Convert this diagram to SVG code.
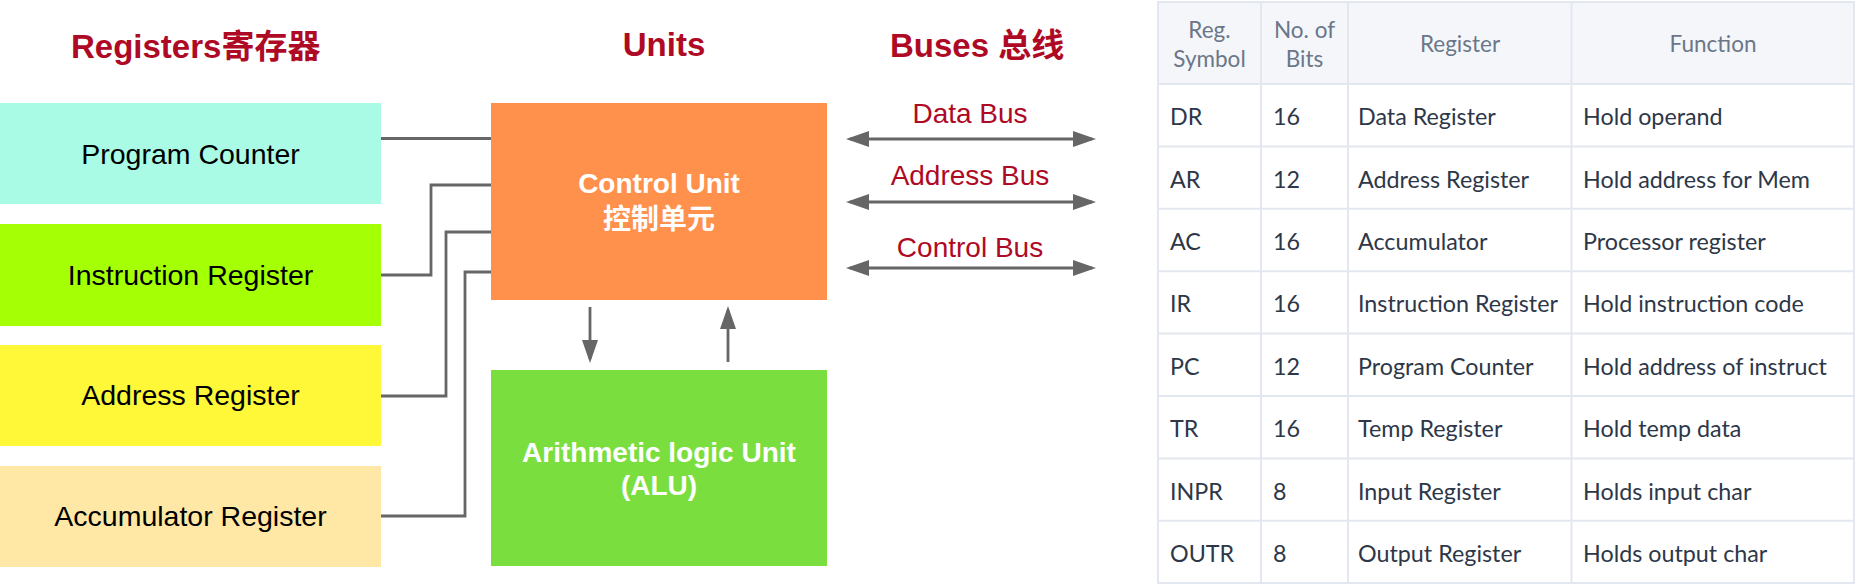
<svg xmlns="http://www.w3.org/2000/svg" width="1856" height="585" viewBox="0 0 1856 585">
<style>
.title{font-family:"Liberation Sans","Noto Sans CJK SC",sans-serif;font-weight:bold;font-size:33px;fill:#AF0A25}
.reg{font-family:"Liberation Sans",sans-serif;font-size:28.5px;fill:#000;text-anchor:middle}
.unit{font-family:"Liberation Sans","Noto Sans CJK SC",sans-serif;font-weight:bold;font-size:28px;fill:#fff;text-anchor:middle}
.bus{font-family:"Liberation Sans",sans-serif;font-size:28px;fill:#AF0A25;text-anchor:middle}
.wire{fill:none;stroke:#666;stroke-width:2.8}
.th{font-family:Lato,"Open Sans",sans-serif;font-size:22.5px;fill:#6B7689;text-anchor:middle}
.td{font-family:Lato,"Open Sans",sans-serif;font-size:23.3px;fill:#2D3748}
.grid{stroke:#E3E8F0;stroke-width:2;fill:none}
</style>
<defs>
<marker id="ah" viewBox="0 0 23 16" refX="19" refY="8" markerWidth="23" markerHeight="16" markerUnits="userSpaceOnUse" orient="auto-start-reverse">
<path d="M0,0 L23,8 L0,16 z" fill="#666"/>
</marker>
</defs>
<rect width="1856" height="585" fill="#fff"/>
<g id="titles">
<text class="title" x="71" y="58">Registers寄存器</text>
<text class="title" x="664" y="56" text-anchor="middle">Units</text>
<text class="title" x="890" y="57">Buses 总线</text>
</g>
<g id="connectors">
<path class="wire" d="M381,138.5 H491"/>
<path class="wire" d="M381,275 H431 V185 H491"/>
<path class="wire" d="M381,396 H446 V232 H491"/>
<path class="wire" d="M381,516 H465 V272 H491"/>
<line class="wire" x1="850" y1="139" x2="1092" y2="139" marker-start="url(#ah)" marker-end="url(#ah)"/>
<line class="wire" x1="850" y1="202" x2="1092" y2="202" marker-start="url(#ah)" marker-end="url(#ah)"/>
<line class="wire" x1="850" y1="268" x2="1092" y2="268" marker-start="url(#ah)" marker-end="url(#ah)"/>
<line class="wire" x1="590" y1="307" x2="590" y2="359" marker-end="url(#ah)"/>
<line class="wire" x1="728" y1="362" x2="728" y2="310" marker-end="url(#ah)"/>
</g>
<g id="pc"><rect x="0" y="103" width="381" height="101" fill="#A9FBE5"/><text class="reg" x="190.5" y="164">Program Counter</text></g>
<g id="ir"><rect x="0" y="224" width="381" height="102" fill="#A5FF05"/><text class="reg" x="190.5" y="285">Instruction Register</text></g>
<g id="ar"><rect x="0" y="345" width="381" height="101" fill="#FFF838"/><text class="reg" x="190.5" y="405">Address Register</text></g>
<g id="acc"><rect x="0" y="466" width="381" height="101" fill="#FFE8A5"/><text class="reg" x="190.5" y="526">Accumulator Register</text></g>
<g id="cu"><rect x="491" y="103" width="336" height="197" fill="#FF914D"/>
<text class="unit" x="659" y="193">Control Unit</text>
<text class="unit" x="659" y="229">控制单元</text></g>
<g id="alu"><rect x="491" y="370" width="336" height="196" fill="#7BDE3F"/>
<text class="unit" x="659" y="462">Arithmetic logic Unit</text>
<text class="unit" x="659" y="495">(ALU)</text></g>
<g id="buslabels">
<text class="bus" x="970" y="123">Data Bus</text>
<text class="bus" x="970" y="185">Address Bus</text>
<text class="bus" x="970" y="257">Control Bus</text>
</g>
<g id="table">
<rect x="1158" y="2" width="696" height="82" fill="#F4F6FA"/>
<rect class="grid" x="1158" y="2" width="696" height="581"/>
<path class="grid" d="M1261,2 V583 M1348,2 V583 M1571.5,2 V583 M1158,84 H1854 M1158,146.4 H1854 M1158,208.8 H1854 M1158,271.2 H1854 M1158,333.6 H1854 M1158,396 H1854 M1158,458.4 H1854 M1158,520.8 H1854"/>
<text class="th" x="1209.5" y="37.7">Reg.</text>
<text class="th" x="1209.5" y="66.7">Symbol</text>
<text class="th" x="1304.5" y="37.7">No. of</text>
<text class="th" x="1304.5" y="66.7">Bits</text>
<text class="th" x="1460" y="52">Register</text>
<text class="th" x="1713" y="52">Function</text>
<g class="td">
<text x="1170" y="125.2">DR</text><text x="1273" y="125.2">16</text><text x="1358" y="125.2">Data Register</text><text x="1583" y="125.2">Hold operand</text>
<text x="1170" y="187.6">AR</text><text x="1273" y="187.6">12</text><text x="1358" y="187.6">Address Register</text><text x="1583" y="187.6">Hold address for Mem</text>
<text x="1170" y="250">AC</text><text x="1273" y="250">16</text><text x="1358" y="250">Accumulator</text><text x="1583" y="250">Processor register</text>
<text x="1170" y="312.4">IR</text><text x="1273" y="312.4">16</text><text x="1358" y="312.4">Instruction Register</text><text x="1583" y="312.4">Hold instruction code</text>
<text x="1170" y="374.8">PC</text><text x="1273" y="374.8">12</text><text x="1358" y="374.8">Program Counter</text><text x="1583" y="374.8">Hold address of instruct</text>
<text x="1170" y="437.2">TR</text><text x="1273" y="437.2">16</text><text x="1358" y="437.2">Temp Register</text><text x="1583" y="437.2">Hold temp data</text>
<text x="1170" y="499.6">INPR</text><text x="1273" y="499.6">8</text><text x="1358" y="499.6">Input Register</text><text x="1583" y="499.6">Holds input char</text>
<text x="1170" y="562">OUTR</text><text x="1273" y="562">8</text><text x="1358" y="562">Output Register</text><text x="1583" y="562">Holds output char</text>
</g>
</g>
</svg>
